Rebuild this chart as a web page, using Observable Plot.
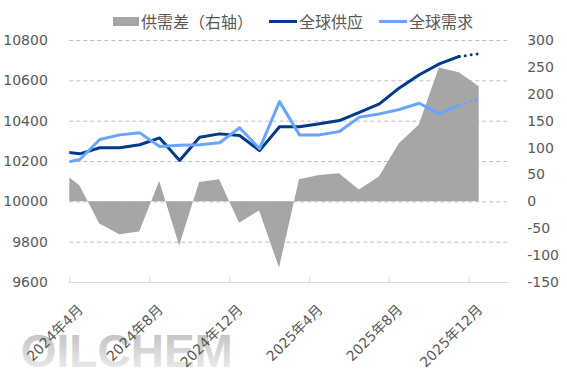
<!DOCTYPE html>
<html><head><meta charset="utf-8">
<script src="https://cdn.jsdelivr.net/npm/d3@7"></script>
<script src="https://cdn.jsdelivr.net/npm/@observablehq/plot@0.6"></script>
<style>
html,body{margin:0;padding:0;background:#fff;}
#wrap{position:relative;width:567px;height:378px;overflow:hidden;}
#legend{position:relative;width:567px;height:32px;font-family:'Noto Sans CJK SC',sans-serif;font-size:16px;color:#595959;}
#legend .sw{position:absolute;}
#legend .tx{position:absolute;top:12px;line-height:18px;white-space:nowrap;}
</style></head>
<body><div id="wrap">
<div id="legend">
  <div class="sw" style="left:113px;top:17px;width:26px;height:9px;background:#a6a6a6"></div>
  <div class="tx" style="left:141px">供需差（右轴）</div>
  <div class="sw" style="left:269px;top:19.5px;width:28px;height:3px;background:#003a8a"></div>
  <div class="tx" style="left:299px">全球供应</div>
  <div class="sw" style="left:379px;top:19.5px;width:28px;height:3px;background:#69a5ff"></div>
  <div class="tx" style="left:409px">全球需求</div>
</div>
<div id="chart"></div>
</div>
<script>
// months (index 0 = 2024年4月; the first value, 2024年3月, lies left of the plot and is clipped)
const months = ["2024-03","2024-04","2024-05","2024-06","2024-07","2024-08","2024-09","2024-10","2024-11","2024-12",
  "2025-01","2025-02","2025-03","2025-04","2025-05","2025-06","2025-07","2025-08","2025-09","2025-10","2025-11","2025-12"];
const supply = [10250,10238,10268,10268,10283,10317,10205,10320,10337,10329,10254,10372,10372,10387,10403,10444,10486,10565,10630,10684,10721,10734];
const demand = [10190,10210,10309,10332,10342,10274,10281,10283,10293,10367,10264,10497,10332,10332,10349,10420,10436,10458,10489,10436,10479,10514];
const gap = [59,30,-41,-61,-56,38,-82,36,41,-40,-17,-123,41,49,52,22,46,108,143,249,240,214];
const xTickLabels = ["2024年4月","2024年8月","2024年12月","2025年4月","2025年8月","2025年12月"];
const xTickMonths = ["2024-04","2024-08","2024-12","2025-04","2025-08","2025-12"];
const leftTicks = [9600,9800,10000,10200,10400,10600,10800];
const rightTicks = [-150,-100,-50,0,50,100,150,200,250,300];
const forecastFrom = "2025-11"; // dotted segment starts here

const startMonth = "2024-04";
const mIndex = m => { const [y,mo] = m.split("-").map(Number); const [y0,m0] = startMonth.split("-").map(Number); return (y-y0)*12 + (mo-m0); };
const nCats = 22;
// right axis mapped onto the left scale: -150..300 -> 9600..10800
const rMin=-150, rMax=300, lMin=9600, lMax=10800;
const toLeft = v => lMin + (v - rMin) * (lMax - lMin) / (rMax - rMin);
const toRight = v => rMin + (v - lMin) * (rMax - rMin) / (lMax - lMin);

const rows = months.map((m,i)=>({i: mIndex(m), m, s: supply[i], d: demand[i], g: toLeft(gap[i]), g0: toLeft(0)}));
const fIdx = mIndex(forecastFrom);
const solid = rows.filter(r => r.i <= fIdx);
const dotted = rows.filter(r => r.i >= fIdx);

const C1 = "#003a8a", C2 = "#69a5ff", GR = "#a6a6a6", TXT = "#595959";

const chart = Plot.plot({
  width: 567, height: 346,
  marginLeft: 69.3, marginRight: 58.3, marginTop: 8, marginBottom: 96,
  x: {domain: [-0.5, nCats - 0.5], axis: null},
  y: {domain: [lMin, lMax], axis: null},
  style: {fontFamily: "'DejaVu Sans','Noto Sans CJK SC',sans-serif", fontSize: "14px", color: TXT, background: "transparent", overflow: "visible"},
  marks: [
    () => {
      const defs = d3.create("svg:defs");
      const g = defs.append("linearGradient").attr("id","wmgrad").attr("x1",0).attr("y1",0).attr("x2",0).attr("y2",1);
      g.append("stop").attr("offset","0%").attr("stop-color","#bababa");
      g.append("stop").attr("offset","100%").attr("stop-color","#f2f2f2");
      return defs.node();
    },
    Plot.text(["OILCHEM"], {frameAnchor: "bottom-left", text: d => d, dx: -49, dy: 84, textAnchor: "start", lineAnchor: "bottom",
      fontFamily: "'Liberation Sans',Arial,sans-serif", fontWeight: "bold", fontSize: 46, fill: "url(#wmgrad)"}),
    Plot.ruleY(leftTicks.filter(v => v > lMin), {stroke: "#bfbfbf", strokeWidth: 1, strokeDasharray: "4,3"}),
    Plot.areaY(rows, {x: "i", y1: "g0", y2: "g", fill: GR, clip: true}),
    Plot.ruleY([lMin], {stroke: "#d9d9d9", strokeWidth: 1}),
    Plot.ruleX(d3.range(-0.5, nCats - 0.5, 4), {y1: lMin, y2: lMin + (lMax-lMin)*5/242, stroke: "#d9d9d9", strokeWidth: 1}),
    Plot.line(solid, {x: "i", y: "s", stroke: C1, strokeWidth: 3, strokeLinejoin: "round", clip: true}),
    Plot.line(solid, {x: "i", y: "d", stroke: C2, strokeWidth: 3, strokeLinejoin: "round", clip: true}),
    Plot.line(dotted, {x: "i", y: "s", stroke: C1, strokeWidth: 3, strokeDasharray: "0,6", strokeLinecap: "round"}),
    Plot.line(dotted, {x: "i", y: "d", stroke: C2, strokeWidth: 3, strokeDasharray: "0,6", strokeLinecap: "round"}),
    Plot.axisY(leftTicks, {anchor: "left", tickSize: 0, tickPadding: 22, tickFormat: d => String(d), fill: TXT, fontSize: 14}),
    Plot.axisY(rightTicks.map(toLeft), {anchor: "right", tickSize: 0, tickPadding: 18,
      tickFormat: d => String(Math.round(toRight(d))), fill: TXT, fontSize: 14}),
    Plot.text(xTickMonths, {x: d => mIndex(d), text: (d,i) => xTickLabels[i], frameAnchor: "bottom", rotate: -45,
      textAnchor: "end", lineAnchor: "middle", dx: 1, dy: 25, fill: TXT, fontSize: 14})
  ]
});
document.getElementById("chart").appendChild(chart);
</script>
</body></html>
